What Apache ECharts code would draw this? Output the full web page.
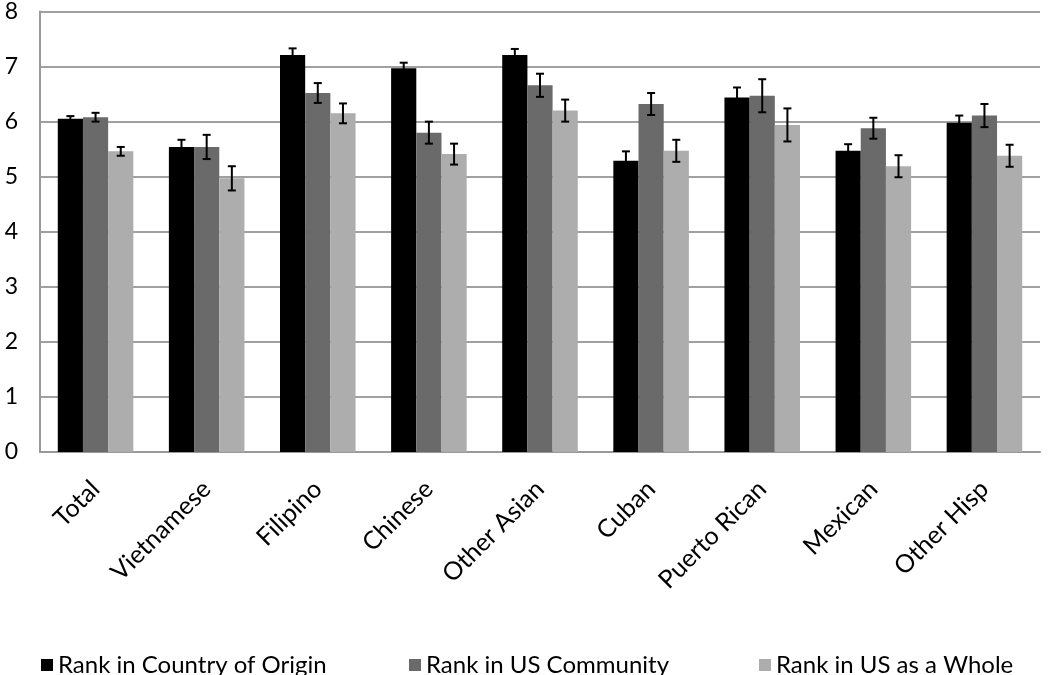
<!DOCTYPE html>
<html><head><meta charset="utf-8">
<script src="https://cdn.jsdelivr.net/npm/echarts@6/dist/echarts.min.js"></script>
<style>html,body{margin:0;padding:0;background:#fff}#c{width:1050px;height:675px}</style>
</head><body><div id="c"></div>
<script>
const categories = ['Total','Vietnamese','Filipino','Chinese','Other Asian','Cuban','Puerto Rican','Mexican','Other Hisp'];
const seriesNames = ['Rank in Country of Origin','Rank in US Community','Rank in US as a Whole'];
const origin = [6.05,5.54,7.21,6.97,7.21,5.29,6.44,5.47,5.98];
const originErr = [0.05,0.13,0.12,0.10,0.11,0.17,0.18,0.12,0.13];
const community = [6.08,5.54,6.52,5.80,6.66,6.32,6.47,5.88,6.11];
const communityErr = [0.08,0.22,0.18,0.20,0.21,0.20,0.30,0.19,0.21];
const whole = [5.46,4.97,6.15,5.41,6.20,5.47,5.94,5.19,5.38];
const wholeErr = [0.08,0.22,0.18,0.19,0.20,0.20,0.30,0.20,0.20];
const yTicks = [0,1,2,3,4,5,6,7,8];

const colors = ['#000000','#6a6a6a','#adadad'];
const CAT_GAP = 0.32;
const FONT = 'Lato, "Liberation Sans", sans-serif';

function errSeries(vals, errs, k){
  return {
    type:'custom', z:10, silent:true,
    data: vals.map((v,i)=>[i,v,errs[i]]),
    renderItem:function(params, api){
      const idx=api.value(0), v=api.value(1), e=api.value(2);
      const band=api.size([1,0])[0];
      const bw=band*(1-CAT_GAP)/3;
      const c=api.coord([idx,v]);
      const x=c[0]+(k-1)*bw;
      const t=api.coord([idx,v+e])[1], b=api.coord([idx,v-e])[1];
      const cw=4;
      const st={stroke:'#000',lineWidth:2};
      return {type:'group',children:[
        {type:'line',shape:{x1:x,y1:t,x2:x,y2:b},style:st},
        {type:'line',shape:{x1:x-cw,y1:t,x2:x+cw,y2:t},style:st},
        {type:'line',shape:{x1:x-cw,y1:b,x2:x+cw,y2:b},style:st}
      ]};
    }
  };
}
const barData=[origin,community,whole];
const series=[];
barData.forEach((d,k)=>{
  series.push({name:seriesNames[k],type:'bar',data:d,barGap:'0%',barCategoryGap:(CAT_GAP*100)+'%',
    itemStyle:{color:colors[k]}});
});
barData.forEach((d,k)=>series.push(errSeries(d,[originErr,communityErr,wholeErr][k],k)));

const legendLefts=[36,404,754];
const chart=echarts.init(document.getElementById('c'),null,{renderer:'canvas'});
chart.setOption({
  animation:false,
  textStyle:{fontFamily:FONT},
  grid:{left:40,right:10,top:10,bottom:223,containLabel:false},
  legend: seriesNames.map((n,k)=>({data:[n],left:legendLefts[k],top:648,icon:'rect',itemWidth:12,itemHeight:12,itemGap:0,
    textStyle:{fontSize:24,color:'#000',fontFamily:FONT},selectedMode:false})),
  xAxis:{type:'category',data:categories,
    axisLine:{lineStyle:{color:'#999',width:2}},axisTick:{show:false},
    axisLabel:{interval:0,rotate:45,fontSize:25,color:'#000',margin:33,fontFamily:FONT}},
  yAxis:{type:'value',min:0,max:8,interval:1,
    axisLine:{show:true,lineStyle:{color:'#999',width:2}},axisTick:{show:false},
    splitLine:{lineStyle:{color:'#a0a0a0',width:2}},
    axisLabel:{fontSize:23,color:'#000',margin:22,fontFamily:FONT,
      formatter:v=>yTicks.includes(v)?String(v):''}},
  series:series
});
</script></body></html>
